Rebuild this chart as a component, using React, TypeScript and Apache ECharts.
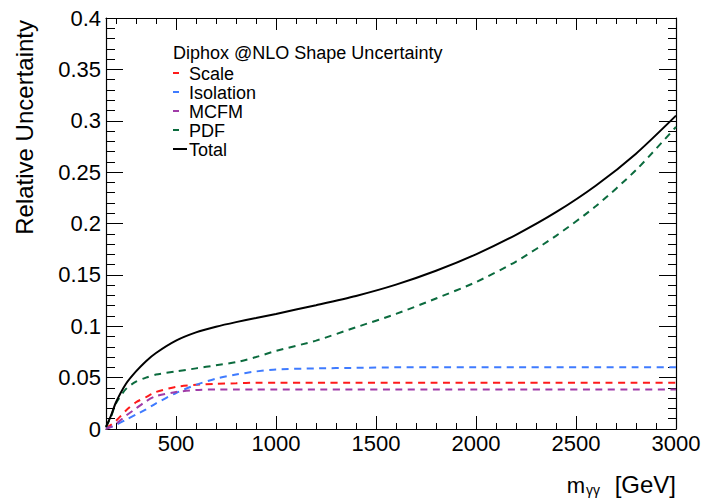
import React, { useEffect, useRef } from 'react';
import * as echarts from 'echarts';

// m_gammagamma sample points [GeV]
const massPoints = [150, 175, 200, 250, 300, 350, 400, 500, 600, 700, 800, 900, 1000, 1200, 1400, 1600, 1800, 2000, 2200, 2400, 2600, 2800, 3000];
const scaleUnc = [0.001, 0.004, 0.008, 0.018, 0.026, 0.031, 0.036, 0.041, 0.043, 0.044, 0.0445, 0.045, 0.045, 0.045, 0.045, 0.045, 0.045, 0.045, 0.045, 0.045, 0.045, 0.045, 0.045];
const isolationUnc = [0.001, 0.002, 0.004, 0.009, 0.014, 0.019, 0.025, 0.035, 0.043, 0.049, 0.053, 0.056, 0.058, 0.059, 0.0595, 0.06, 0.06, 0.06, 0.06, 0.06, 0.06, 0.06, 0.06];
const mcfmUnc = [0.0, 0.002, 0.005, 0.013, 0.02, 0.027, 0.032, 0.036, 0.038, 0.0385, 0.0385, 0.0385, 0.0385, 0.0385, 0.0385, 0.0385, 0.0385, 0.0385, 0.0385, 0.0385, 0.0385, 0.0385, 0.0385];
const pdfUnc = [0.002, 0.012, 0.025, 0.039, 0.046, 0.05, 0.053, 0.056, 0.059, 0.062, 0.065, 0.07, 0.076, 0.086, 0.099, 0.112, 0.127, 0.143, 0.163, 0.188, 0.217, 0.252, 0.294];
const totalUnc = [0.002, 0.013, 0.026, 0.044, 0.056, 0.066, 0.074, 0.086, 0.094, 0.0995, 0.104, 0.108, 0.112, 0.1205, 0.1295, 0.1405, 0.154, 0.17, 0.189, 0.211, 0.237, 0.268, 0.305];

const xMajorTicks = [500, 1000, 1500, 2000, 2500, 3000];
const xMinorTicks = [200, 300, 400, 600, 700, 800, 900, 1100, 1200, 1300, 1400, 1600, 1700, 1800, 1900, 2100, 2200, 2300, 2400, 2600, 2700, 2800, 2900];

const legendTitle = 'Diphox @NLO Shape Uncertainty';
const seriesNames = ['Scale', 'Isolation', 'MCFM', 'PDF', 'Total'];
const seriesColors = ['#ff1a1a', '#3f7bff', '#a03ca8', '#0b6b3e', '#000000'];

const FONT = '"Liberation Sans", Arial, Helvetica, sans-serif';

export default function App() {
  const ref = useRef<HTMLDivElement>(null);
  useEffect(() => {
    if (!ref.current) return;
    const chart = echarts.init(ref.current, null, { renderer: 'svg' });
    const seriesData = [scaleUnc, isolationUnc, mcfmUnc, pdfUnc, totalUnc];
    const pair = (ys: number[]) => massPoints.map((x, i) => [x, ys[i]]);

    const xBase = {
      type: 'value' as const,
      min: 150,
      max: 3000,
      splitLine: { show: false },
      axisLine: { show: true, onZero: false, lineStyle: { color: '#000', width: 1.2 } },
    };
    const tickStyle = { color: '#000', width: 1 };

    const legendRowsY = [74, 93, 112, 131, 150];
    const legendGraphics: any[] = [
      {
        type: 'text', x: 173, y: 53,
        style: { text: legendTitle, fontSize: 18, fontFamily: FONT, fill: '#000', verticalAlign: 'middle', align: 'left' },
      },
    ];
    seriesNames.forEach((name, i) => {
      const y = legendRowsY[i];
      const isTotal = i === 4;
      legendGraphics.push({
        type: 'line',
        shape: { x1: 173, y1: y - 1, x2: isTotal ? 187 : 179, y2: y - 1 },
        style: { stroke: seriesColors[i], lineWidth: 2 },
      });
      legendGraphics.push({
        type: 'text', x: 189, y,
        style: { text: name, fontSize: 18, fontFamily: FONT, fill: '#000', verticalAlign: 'middle', align: 'left' },
      });
    });

    const option: any = {
      animation: false,
      backgroundColor: '#fff',
      grid: { left: 106, right: 29, top: 18, bottom: 70, containLabel: false, outerBoundsMode: 'none' },
      xAxis: [
        {
          ...xBase, position: 'bottom',
          axisTick: { show: true, inside: true, length: 13, customValues: xMajorTicks, lineStyle: tickStyle },
          axisLabel: { show: true, customValues: xMajorTicks, fontSize: 22, fontFamily: FONT, color: '#000', margin: 3, formatter: (v: number) => String(v) },
        },
        {
          ...xBase, position: 'bottom', axisLine: { show: false, onZero: false },
          axisTick: { show: true, inside: true, length: 6, customValues: xMinorTicks, lineStyle: tickStyle },
          axisLabel: { show: false },
        },
        {
          ...xBase, position: 'top',
          axisTick: { show: true, inside: true, length: 12, customValues: xMajorTicks, lineStyle: tickStyle },
          axisLabel: { show: false },
        },
        {
          ...xBase, position: 'top', axisLine: { show: false, onZero: false },
          axisTick: { show: true, inside: true, length: 6, customValues: xMinorTicks, lineStyle: tickStyle },
          axisLabel: { show: false },
        },
      ],
      yAxis: [
        {
          type: 'value', position: 'left', min: 0, max: 0.4, interval: 0.05,
          splitLine: { show: false },
          axisLine: { show: true, onZero: false, lineStyle: { color: '#000', width: 1.2 } },
          axisTick: { show: true, inside: true, length: 17, lineStyle: tickStyle },
          minorTick: { show: true, splitNumber: 5, length: 9, lineStyle: tickStyle },
          axisLabel: { show: true, fontSize: 22, fontFamily: FONT, color: '#000', margin: 5 },
        },
        {
          type: 'value', position: 'right', min: 0, max: 0.4, interval: 0.05,
          splitLine: { show: false },
          axisLine: { show: true, onZero: false, lineStyle: { color: '#000', width: 1.2 } },
          axisTick: { show: true, inside: true, length: 17, lineStyle: tickStyle },
          minorTick: { show: true, splitNumber: 5, length: 8, lineStyle: tickStyle },
          axisLabel: { show: false },
        },
      ],
      series: seriesNames.map((name, i) => ({
        name,
        type: 'line',
        xAxisIndex: 0,
        yAxisIndex: 0,
        data: pair(seriesData[i]),
        showSymbol: false,
        smooth: 0.25,
        z: i === 4 ? 3 : 2,
        lineStyle: { color: seriesColors[i], width: 2, type: i === 4 ? 'solid' : [7, 5.5] },
      })),
      graphic: [
        ...legendGraphics,
        {
          type: 'text', x: 24, y: 20, rotation: Math.PI / 2,
          style: { text: 'Relative Uncertainty', fontSize: 24, fontFamily: FONT, fill: '#000', align: 'right', verticalAlign: 'middle' },
        },
        {
          type: 'text', x: 676, y: 484.5,
          style: { text: '[GeV]', fontSize: 24, fontFamily: FONT, fill: '#000', align: 'right', verticalAlign: 'middle' },
        },
        {
          type: 'text', x: 600, y: 489.5,
          style: { text: 'γγ', fontSize: 14, fontFamily: FONT, fill: '#000', align: 'right', verticalAlign: 'middle' },
        },
        {
          type: 'text', x: 585, y: 485,
          style: { text: 'm', fontSize: 22, fontFamily: FONT, fill: '#000', align: 'right', verticalAlign: 'middle' },
        },
      ],
    };
    chart.setOption(option);
    return () => chart.dispose();
  }, []);
  return <div ref={ref} style={{ position: 'fixed', left: 0, top: 0, width: 705, height: 499, background: '#fff' }} />;
}
